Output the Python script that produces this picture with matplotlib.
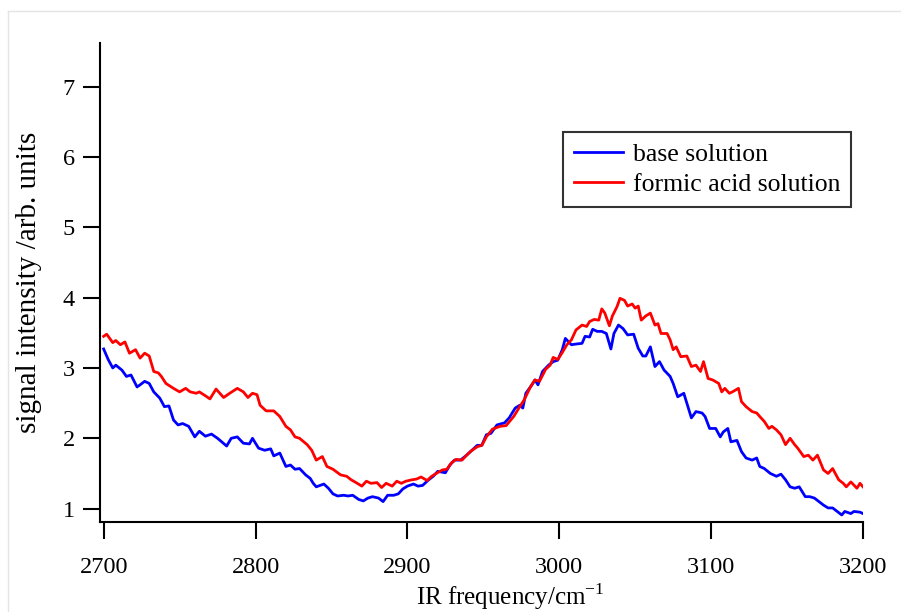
import matplotlib
matplotlib.use("Agg")
import matplotlib.pyplot as plt
from matplotlib.lines import Line2D

plt.rcParams['font.family'] = ['Liberation Serif', 'DejaVu Serif']
plt.rcParams['mathtext.fontset'] = 'custom'
plt.rcParams['mathtext.rm'] = 'Liberation Serif'

# base solution spectrum
base_freq = [2700, 2703, 2706, 2708, 2712, 2715, 2718, 2722, 2724, 2727, 2730, 2733,
             2737, 2740, 2743, 2746, 2749, 2752, 2756, 2760, 2763, 2767, 2771, 2775,
             2781, 2784, 2788, 2792, 2796, 2798, 2802, 2806, 2810, 2812, 2816, 2820,
             2823, 2826, 2829, 2833, 2836, 2838, 2840, 2845, 2848, 2851, 2854, 2858,
             2861, 2864, 2868, 2871, 2874, 2877, 2881, 2884, 2887, 2891, 2894, 2897,
             2900, 2904, 2907, 2910, 2914, 2917, 2920, 2925, 2928, 2931, 2935, 2939,
             2942, 2946, 2949, 2952, 2955, 2959, 2964, 2967, 2971, 2974, 2976, 2978,
             2982, 2984, 2986, 2989, 2993, 2996, 2999, 3002, 3004, 3008, 3011, 3015,
             3017, 3020, 3022, 3025, 3028, 3031, 3034, 3036, 3039, 3042, 3045, 3049,
             3052, 3055, 3057, 3060, 3063, 3066, 3069, 3073, 3075, 3078, 3082, 3084,
             3087, 3090, 3094, 3096, 3099, 3103, 3106, 3108, 3111, 3113, 3117, 3120,
             3123, 3127, 3130, 3132, 3135, 3139, 3143, 3146, 3149, 3152, 3155, 3158,
             3162, 3165, 3168, 3171, 3174, 3177, 3180, 3183, 3186, 3188, 3192, 3194,
             3198, 3200]
base_signal = [3.27, 3.12, 3.00, 3.04, 2.97, 2.88, 2.90, 2.73, 2.76, 2.81, 2.78, 2.66,
               2.57, 2.45, 2.46, 2.26, 2.19, 2.21, 2.17, 2.02, 2.10, 2.03, 2.06, 2.00,
               1.89, 2.00, 2.02, 1.93, 1.92, 2.00, 1.86, 1.83, 1.85, 1.75, 1.79, 1.60,
               1.62, 1.56, 1.57, 1.48, 1.43, 1.36, 1.31, 1.35, 1.29, 1.21, 1.18, 1.19,
               1.18, 1.19, 1.13, 1.11, 1.15, 1.17, 1.15, 1.10, 1.19, 1.19, 1.21, 1.28,
               1.32, 1.35, 1.32, 1.33, 1.41, 1.46, 1.53, 1.51, 1.62, 1.69, 1.69, 1.76,
               1.82, 1.90, 1.90, 2.05, 2.07, 2.19, 2.22, 2.29, 2.43, 2.47, 2.43, 2.64,
               2.76, 2.83, 2.76, 2.95, 3.04, 3.09, 3.11, 3.26, 3.42, 3.33, 3.34, 3.35,
               3.45, 3.44, 3.55, 3.52, 3.52, 3.49, 3.27, 3.49, 3.61, 3.56, 3.47, 3.48,
               3.28, 3.17, 3.17, 3.30, 3.02, 3.09, 2.97, 2.88, 2.78, 2.59, 2.64, 2.50,
               2.29, 2.38, 2.36, 2.31, 2.14, 2.14, 2.02, 2.09, 2.14, 1.95, 1.97, 1.81,
               1.72, 1.69, 1.72, 1.60, 1.57, 1.50, 1.46, 1.49, 1.41, 1.31, 1.29, 1.31,
               1.17, 1.17, 1.15, 1.10, 1.05, 1.01, 1.01, 0.96, 0.91, 0.96, 0.93, 0.96,
               0.95, 0.93]

# formic acid solution spectrum
acid_freq = [2700, 2702, 2706, 2708, 2711, 2714, 2717, 2721, 2724, 2727, 2730, 2733,
             2736, 2738, 2741, 2746, 2750, 2754, 2757, 2761, 2763, 2768, 2770, 2774,
             2779, 2783, 2788, 2792, 2795, 2798, 2801, 2803, 2807, 2812, 2816, 2820,
             2823, 2826, 2829, 2834, 2837, 2840, 2844, 2847, 2851, 2856, 2860, 2863,
             2867, 2870, 2873, 2876, 2880, 2883, 2886, 2890, 2893, 2896, 2899, 2903,
             2906, 2909, 2913, 2916, 2919, 2923, 2926, 2929, 2932, 2936, 2939, 2942,
             2946, 2949, 2952, 2956, 2961, 2965, 2970, 2974, 2977, 2981, 2984, 2987,
             2991, 2994, 2996, 2999, 3002, 3005, 3008, 3011, 3015, 3018, 3020, 3023,
             3026, 3028, 3030, 3033, 3035, 3038, 3040, 3043, 3045, 3048, 3050, 3052,
             3054, 3057, 3060, 3063, 3065, 3067, 3071, 3073, 3075, 3077, 3080, 3084,
             3087, 3090, 3093, 3095, 3098, 3101, 3105, 3107, 3109, 3112, 3114, 3118,
             3120, 3123, 3127, 3130, 3132, 3135, 3138, 3140, 3143, 3146, 3149, 3152,
             3155, 3157, 3161, 3164, 3167, 3170, 3174, 3177, 3180, 3184, 3187, 3189,
             3192, 3196, 3198, 3200]
acid_signal = [3.45, 3.48, 3.36, 3.39, 3.33, 3.37, 3.21, 3.26, 3.14, 3.21, 3.17, 2.95,
               2.93, 2.88, 2.78, 2.71, 2.66, 2.71, 2.66, 2.64, 2.66, 2.59, 2.56, 2.70,
               2.58, 2.64, 2.71, 2.66, 2.58, 2.64, 2.62, 2.47, 2.39, 2.39, 2.31, 2.17,
               2.12, 2.02, 2.00, 1.91, 1.83, 1.69, 1.74, 1.60, 1.56, 1.48, 1.46, 1.41,
               1.36, 1.32, 1.39, 1.36, 1.37, 1.30, 1.36, 1.32, 1.39, 1.36, 1.39, 1.41,
               1.42, 1.45, 1.40, 1.46, 1.50, 1.55, 1.56, 1.65, 1.70, 1.69, 1.76, 1.82,
               1.88, 1.90, 2.02, 2.13, 2.17, 2.18, 2.31, 2.45, 2.55, 2.73, 2.83, 2.81,
               2.98, 3.04, 3.15, 3.12, 3.22, 3.33, 3.40, 3.54, 3.61, 3.59, 3.66, 3.69,
               3.68, 3.84, 3.78, 3.60, 3.74, 3.87, 3.99, 3.96, 3.88, 3.91, 3.85, 3.88,
               3.68, 3.74, 3.78, 3.61, 3.63, 3.49, 3.49, 3.40, 3.26, 3.30, 3.16, 3.17,
               3.02, 3.04, 2.95, 3.09, 2.85, 2.83, 2.78, 2.66, 2.71, 2.64, 2.66, 2.71,
               2.52, 2.45, 2.38, 2.36, 2.31, 2.24, 2.14, 2.17, 2.12, 2.05, 1.91, 2.00,
               1.91, 1.86, 1.74, 1.76, 1.69, 1.76, 1.55, 1.50, 1.57, 1.41, 1.36, 1.31,
               1.38, 1.29, 1.36, 1.31]

x_ticks = [2700, 2800, 2900, 3000, 3100, 3200]
y_ticks = [1, 2, 3, 4, 5, 6, 7]

fig = plt.figure(figsize=(9.01, 6.12), dpi=100)
ax = fig.add_axes([100 / 901, 1 - 522 / 612, 763 / 901, 479 / 612])

ax.plot(base_freq, base_signal, color='#0000ff', lw=2.0, label='base solution')
ax.plot(acid_freq, acid_signal, color='#ff0000', lw=2.0, label='formic acid solution')

ax.set_xlim(2697.6, 3200)
ax.set_ylim(0.81, 7.62)
ax.set_xticks(x_ticks)
ax.set_yticks(y_ticks)

for side in ['top', 'right']:
    ax.spines[side].set_visible(False)
for side in ['left', 'bottom']:
    ax.spines[side].set_linewidth(1.5)

ax.tick_params(axis='x', direction='out', length=12, width=1.5, pad=13, labelsize=17.5)
ax.tick_params(axis='y', direction='out', length=12, width=1.5, pad=6, labelsize=17.5)

ax.set_xlabel(r'IR frequency/cm$^{\mathrm{-1}}$', fontsize=18)
ax.xaxis.set_label_coords(410 / 763, -59 / 479)
ax.set_ylabel('signal intensity /arb. units', fontsize=21)
ax.yaxis.set_label_coords(-58 / 763, 0.5)

leg = ax.legend(loc='upper left', bbox_to_anchor=(463 / 763, 1 - 89 / 479),
                fontsize=18.5, frameon=True, fancybox=False, borderpad=0.42,
                handlelength=1.9, handletextpad=0.4, labelspacing=0.3,
                borderaxespad=0)
leg.get_frame().set_edgecolor('black')
leg.get_frame().set_linewidth(1.5)

# thin page frame along top and left edges
fig.add_artist(Line2D([8 / 901, 1], [1 - 11 / 612, 1 - 11 / 612], color='#e4e4e4', lw=1))
fig.add_artist(Line2D([8 / 901, 8 / 901], [0, 1 - 11 / 612], color='#e4e4e4', lw=1))

fig.savefig('out.png', dpi=100)
